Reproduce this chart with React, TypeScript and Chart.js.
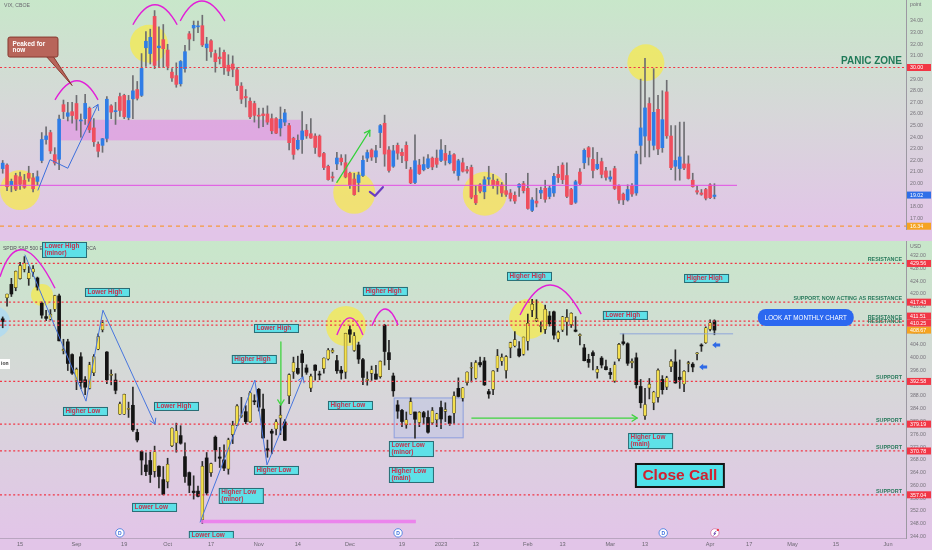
import { useEffect, useRef } from 'react';
import { Chart, registerables } from 'chart.js';

Chart.register(...registerables);

type Ohlc = [number, number, number, number]; // open, high, low, close

// one row per trading day: index 0 = 9 Aug 2022 ... index 164 = 4 Apr 2023
const spyCandles: Ohlc[] = [
  [412.2, 412.8, 409.4, 411.35], [418.8, 420.0, 416.2, 419.99], [423.0, 424.9, 419.2, 419.99], [422.0, 427.2, 421.0, 427.1],
  [424.8, 429.9, 424.6, 428.86], [427.7, 431.7, 426.9, 429.7], [424.8, 428.6, 422.7, 426.65], [426.9, 428.9, 425.5, 427.89],
  [425.0, 425.3, 421.2, 422.14], [417.1, 417.5, 412.4, 413.35], [412.9, 414.9, 411.6, 412.35], [412.1, 415.1, 411.8, 413.67],
  [415.2, 419.6, 414.5, 419.51], [419.4, 420.0, 405.3, 405.31], [402.2, 405.8, 401.2, 402.63], [405.0, 405.8, 396.0, 398.21],
  [401.0, 401.2, 394.8, 395.18], [392.9, 396.8, 390.0, 396.42], [400.3, 401.6, 390.3, 392.24], [393.1, 394.1, 388.4, 390.76],
  [390.4, 398.6, 390.2, 397.78], [395.3, 401.0, 394.4, 400.38], [402.7, 407.5, 402.5, 406.6], [408.8, 411.7, 408.1, 410.97],
  [401.8, 401.9, 391.9, 393.1], [394.5, 396.2, 391.5, 394.69], [393.0, 395.0, 388.7, 389.79], [382.3, 386.1, 382.2, 385.56],
  [382.3, 388.6, 382.2, 388.55], [383.8, 386.1, 381.3, 384.09], [385.1, 390.8, 376.9, 377.39], [376.6, 377.6, 373.6, 374.22],
  [370.6, 370.8, 363.3, 367.95], [366.4, 370.2, 363.0, 364.31], [367.8, 370.4, 360.9, 363.38], [364.4, 372.3, 362.6, 370.53],
  [366.0, 366.1, 359.2, 362.79], [361.8, 365.9, 357.0, 357.18], [361.1, 368.5, 359.2, 366.61], [372.4, 378.0, 372.1, 377.97],
  [373.3, 379.5, 370.4, 377.09], [375.6, 378.7, 372.9, 373.2], [369.0, 373.3, 360.9, 362.79], [364.0, 364.2, 357.7, 360.02],
  [358.2, 363.0, 355.7, 357.74], [358.2, 359.8, 356.4, 356.56], [349.2, 367.5, 348.1, 365.97], [368.6, 370.3, 357.0, 357.63],
  [364.0, 367.0, 362.8, 366.82], [375.1, 375.5, 367.5, 371.13], [368.9, 371.9, 365.6, 368.5], [368.0, 372.7, 364.6, 365.41],
  [365.1, 374.8, 363.5, 374.29], [375.9, 380.1, 373.1, 378.87], [378.8, 385.3, 378.7, 384.92], [381.6, 387.6, 381.3, 382.02],
  [383.1, 385.0, 379.3, 379.98], [379.9, 389.5, 379.7, 389.02], [386.4, 388.4, 385.3, 386.21], [390.1, 390.4, 383.3, 384.52],
  [383.9, 388.6, 374.8, 374.87], [371.5, 374.2, 368.8, 371.01], [377.0, 377.6, 369.9, 376.35], [377.7, 380.6, 375.8, 379.95],
  [381.1, 385.1, 375.9, 382.0], [379.9, 380.6, 374.0, 374.13], [388.1, 395.0, 385.6, 394.69], [395.6, 400.2, 393.5, 398.51],
  [396.7, 400.5, 394.8, 395.12], [401.2, 402.3, 394.0, 398.49], [396.8, 397.8, 394.8, 395.45], [390.5, 394.9, 389.4, 394.24],
  [397.7, 397.8, 393.0, 396.03], [394.6, 395.8, 393.1, 394.59], [396.6, 400.0, 395.2, 399.9], [399.6, 402.9, 399.3, 402.42],
  [401.8, 402.9, 401.5, 402.33], [399.1, 400.8, 395.1, 395.91], [396.1, 397.3, 393.3, 395.23], [395.5, 407.7, 393.5, 407.68],
  [408.8, 410.0, 404.8, 407.38], [402.3, 407.9, 402.0, 406.91], [404.0, 404.9, 398.2, 399.59], [399.4, 399.8, 391.6, 393.83],
  [392.9, 395.6, 391.4, 393.16], [395.1, 397.4, 392.9, 396.24], [394.9, 397.6, 393.3, 393.28], [394.1, 399.0, 393.6, 398.95],
  [410.2, 410.5, 397.7, 401.97], [401.6, 405.5, 396.3, 399.4], [394.3, 395.2, 387.9, 389.63], [385.2, 386.6, 381.0, 383.27],
  [383.5, 383.8, 378.4, 380.02], [379.0, 383.0, 377.9, 380.54], [382.3, 387.4, 382.3, 386.23], [383.0, 383.0, 374.8, 380.72],
  [379.7, 383.1, 378.4, 382.91], [382.8, 383.2, 379.3, 381.4], [381.3, 383.4, 376.4, 376.66], [379.6, 384.4, 379.1, 383.44],
  [380.6, 382.6, 378.4, 382.43], [384.4, 386.4, 377.8, 380.82], [383.2, 385.9, 380.0, 383.76], [381.7, 381.8, 378.8, 379.38],
  [382.6, 389.3, 379.4, 388.08], [390.4, 393.7, 387.7, 387.86], [387.3, 390.7, 386.4, 390.58], [392.2, 395.6, 391.4, 395.52],
  [396.7, 398.5, 392.4, 396.96], [393.6, 399.1, 393.3, 398.5], [398.5, 400.2, 397.1, 397.77], [399.0, 400.1, 391.3, 391.49],
  [389.4, 390.1, 387.3, 388.64], [390.1, 396.0, 388.4, 395.88], [396.7, 402.6, 395.7, 400.63], [398.9, 401.2, 397.6, 400.2],
  [396.0, 400.7, 393.6, 400.35], [403.1, 404.9, 400.0, 404.75], [403.7, 408.2, 403.4, 405.68], [402.8, 405.1, 400.3, 400.59],
  [401.1, 406.5, 400.8, 406.48], [405.2, 413.7, 402.4, 410.8], [414.9, 418.3, 412.9, 416.78], [411.6, 418.2, 411.3, 412.35],
  [409.8, 411.3, 408.1, 409.83], [408.9, 416.5, 407.6, 415.19], [413.1, 414.5, 409.9, 410.65], [414.4, 414.6, 405.8, 407.09],
  [405.9, 408.4, 405.0, 408.04], [408.7, 413.0, 408.2, 412.83], [411.2, 415.1, 407.1, 412.64], [410.4, 414.1, 409.5, 413.98],
  [408.7, 412.9, 408.1, 408.28], [406.9, 407.5, 404.0, 407.26], [403.1, 404.2, 399.0, 399.09], [399.5, 401.1, 397.0, 398.54],
  [401.6, 402.2, 396.2, 400.66], [395.4, 397.3, 393.6, 396.38], [399.9, 400.4, 396.8, 397.73], [397.2, 399.3, 396.2, 396.26],
  [395.4, 396.7, 393.4, 394.74], [392.7, 398.7, 392.3, 397.81], [399.7, 404.5, 399.0, 404.19], [405.0, 407.5, 404.0, 404.47],
  [404.4, 404.7, 397.6, 398.27], [398.4, 399.7, 396.8, 398.92], [400.0, 401.5, 390.5, 391.56], [391.0, 393.2, 384.3, 385.91],
  [381.8, 390.4, 380.7, 385.36], [390.5, 393.5, 387.1, 391.73], [385.9, 389.5, 383.7, 389.28], [387.6, 396.5, 386.1, 396.11],
  [393.2, 394.4, 388.6, 389.99], [390.8, 394.2, 390.0, 393.74], [397.2, 399.4, 395.6, 398.91], [398.7, 402.5, 392.0, 392.11],
  [393.9, 399.3, 390.4, 393.17], [391.8, 396.0, 389.4, 395.75], [398.1, 398.9, 395.6, 398.48], [398.0, 398.5, 395.6, 397.11],
  [401.2, 401.6, 399.3, 401.35], [404.0, 404.4, 402.0, 403.7], [404.7, 409.7, 404.5, 409.39], [408.9, 411.9, 408.4, 410.95],
  [411.6, 411.9, 407.2, 408.67],
];

const vixCandles: Ohlc[] = [
  [21.3, 22.0, 20.9, 21.77], [21.6, 21.7, 19.4, 19.74], [19.9, 20.4, 19.3, 20.2], [20.7, 20.9, 19.4, 19.53],
  [20.6, 21.0, 19.5, 19.95], [20.3, 20.8, 19.6, 19.69], [20.9, 21.5, 20.2, 20.47], [20.5, 20.9, 19.3, 19.56],
  [20.2, 21.1, 19.9, 20.6], [22.0, 24.4, 21.8, 23.8], [23.8, 24.9, 23.4, 24.11], [24.4, 24.6, 22.6, 22.82],
  [22.5, 23.1, 21.6, 21.78], [22.1, 25.9, 21.2, 25.56], [26.8, 27.2, 25.6, 26.21], [25.8, 27.0, 25.4, 26.1],
  [26.2, 27.0, 25.2, 25.87], [26.9, 27.6, 24.6, 25.56], [25.4, 26.0, 24.0, 25.47], [25.6, 27.7, 25.1, 26.91],
  [26.5, 26.6, 24.4, 24.64], [24.8, 25.6, 23.2, 23.61], [23.4, 23.6, 22.3, 22.79], [23.3, 23.9, 22.7, 23.87],
  [23.9, 27.5, 23.6, 27.27], [26.7, 26.8, 25.6, 26.16], [26.2, 27.0, 25.1, 26.27], [27.5, 27.8, 25.8, 26.3],
  [27.6, 27.7, 25.6, 25.76], [25.7, 27.6, 25.5, 27.16], [27.3, 29.3, 25.6, 27.99], [28.1, 28.8, 27.2, 27.35],
  [27.6, 31.2, 27.5, 29.92], [31.7, 33.1, 30.1, 32.26], [31.2, 33.3, 30.3, 32.6], [34.4, 34.9, 29.9, 30.18],
  [31.7, 33.5, 30.0, 31.84], [32.4, 33.7, 30.0, 31.62], [31.5, 32.0, 29.8, 30.1], [29.6, 29.9, 28.8, 29.1],
  [29.3, 30.4, 28.3, 28.55], [28.6, 30.6, 28.4, 30.52], [29.9, 31.9, 29.6, 31.36], [32.9, 33.1, 31.5, 32.45],
  [33.4, 34.0, 32.3, 33.63], [33.5, 34.0, 33.0, 33.57], [33.6, 34.5, 31.8, 31.94], [31.7, 32.6, 30.6, 32.02],
  [32.3, 32.4, 30.9, 31.37], [31.2, 31.5, 29.6, 30.5], [30.9, 31.7, 30.3, 30.76], [31.3, 31.5, 29.4, 29.98],
  [30.2, 31.1, 29.3, 29.69], [30.3, 31.0, 29.2, 29.85], [29.8, 30.0, 28.0, 28.46], [28.4, 28.7, 26.9, 27.28],
  [27.5, 28.1, 26.6, 27.39], [27.1, 27.4, 25.6, 25.75], [26.9, 27.1, 25.3, 25.88], [25.9, 26.5, 24.8, 25.81],
  [26.0, 26.5, 24.9, 25.86], [26.0, 26.7, 25.1, 25.3], [25.6, 26.0, 24.3, 24.55], [25.6, 25.7, 24.3, 24.35],
  [24.8, 26.6, 24.1, 25.54], [25.3, 26.4, 25.0, 26.09], [25.0, 25.2, 22.9, 23.53], [23.9, 24.0, 22.1, 22.52],
  [23.0, 24.2, 22.9, 23.73], [23.8, 26.2, 22.6, 24.54], [24.6, 25.1, 23.9, 24.11], [24.3, 25.6, 23.9, 23.93],
  [24.1, 24.3, 22.6, 23.12], [24.1, 24.2, 22.3, 22.36], [22.6, 22.7, 21.2, 21.39], [21.5, 21.6, 20.3, 20.35],
  [20.6, 21.0, 20.2, 20.5], [21.7, 22.7, 21.2, 22.21], [22.2, 22.5, 21.6, 21.89], [21.8, 22.5, 20.5, 20.58],
  [20.9, 21.0, 19.6, 19.84], [20.4, 20.9, 19.0, 19.06], [20.1, 21.0, 19.3, 20.75], [20.7, 22.4, 20.6, 22.01],
  [22.2, 22.9, 21.9, 22.68], [22.9, 23.0, 22.0, 22.29], [22.3, 23.3, 21.8, 22.83], [24.4, 25.1, 23.1, 25.0],
  [25.2, 25.9, 21.5, 22.55], [22.9, 23.2, 21.0, 21.14], [21.5, 23.3, 21.4, 22.83], [23.3, 23.5, 22.1, 22.62],
  [22.7, 23.0, 21.8, 22.42], [23.3, 23.6, 21.3, 21.97], [21.2, 21.4, 20.0, 20.07], [20.1, 24.2, 20.0, 21.97],
  [21.6, 22.1, 20.8, 20.87], [21.2, 22.3, 21.1, 21.65], [21.4, 22.5, 21.3, 22.14], [22.2, 22.3, 21.2, 21.44],
  [22.2, 22.9, 21.4, 21.67], [22.0, 23.8, 21.9, 22.9], [22.6, 23.3, 21.6, 22.01], [21.8, 22.8, 21.7, 22.46],
  [22.5, 22.6, 20.9, 21.13], [20.7, 22.1, 20.3, 21.97], [21.8, 22.2, 21.0, 21.07], [21.2, 21.5, 20.9, 21.09],
  [21.4, 21.6, 18.7, 18.83], [19.0, 19.8, 18.2, 18.35], [19.9, 20.0, 19.2, 19.36], [19.3, 20.6, 18.7, 20.34],
  [20.4, 21.5, 19.9, 20.52], [20.3, 20.8, 19.6, 19.85], [20.2, 20.4, 19.1, 19.81], [19.9, 20.1, 18.9, 19.2],
  [19.4, 20.9, 18.9, 19.08], [19.2, 19.5, 18.5, 18.73], [19.0, 19.3, 18.3, 18.51], [19.7, 20.0, 18.9, 19.94],
  [20.0, 20.2, 19.2, 19.4], [19.6, 20.9, 17.8, 17.87], [17.7, 18.8, 17.6, 18.6], [18.5, 19.6, 18.0, 18.33],
  [19.2, 19.7, 18.7, 19.43], [19.6, 20.3, 18.4, 18.66], [18.9, 19.8, 18.7, 19.63], [19.2, 20.9, 18.9, 20.63],
  [20.8, 21.5, 20.1, 20.53], [21.6, 21.8, 20.0, 20.34], [20.7, 21.8, 18.8, 18.91], [19.5, 19.6, 18.2, 18.23],
  [18.4, 20.3, 18.3, 20.17], [21.0, 21.3, 19.9, 20.02], [21.8, 23.0, 21.3, 22.87], [23.1, 23.2, 21.6, 22.29],
  [22.1, 23.1, 20.5, 21.14], [21.3, 22.7, 21.2, 21.67], [21.9, 22.2, 20.5, 20.8], [21.1, 21.4, 20.3, 20.55],
  [20.4, 21.1, 20.2, 20.58], [21.3, 21.5, 19.5, 19.59], [19.8, 19.9, 18.3, 18.6], [19.1, 19.2, 18.2, 18.61],
  [18.6, 19.9, 18.5, 19.5], [19.8, 20.0, 18.9, 19.11], [19.2, 22.8, 19.0, 22.55], [23.3, 29.0, 21.7, 24.8],
  [24.1, 30.8, 22.3, 26.52], [26.9, 27.4, 22.3, 23.73], [23.3, 29.9, 22.9, 26.14], [26.4, 27.6, 22.5, 22.99],
  [23.1, 28.0, 22.7, 25.51], [27.9, 28.9, 23.9, 24.12], [24.1, 25.0, 21.2, 21.38], [21.5, 25.0, 20.3, 22.0],
  [21.3, 25.3, 20.3, 22.3], [21.7, 25.3, 21.2, 21.35], [21.7, 22.4, 20.4, 20.45], [20.3, 20.9, 19.7, 19.75],
  [19.4, 19.8, 19.1, 19.28], [19.2, 19.5, 19.0, 19.08], [19.5, 19.6, 18.6, 18.75], [19.9, 20.0, 18.7, 18.8],
  [18.9, 20.0, 18.7, 19.02],
];

const xTickDays = [4, 17, 28, 38, 48, 59, 68, 80, 92, 101, 109, 121, 129, 140, 148, 163, 172, 182, 192, 204];
const xTickLabels = ['15', 'Sep', '19', 'Oct', '17', 'Nov', '14', 'Dec', '19', '2023', '13', 'Feb', '13', 'Mar', '13', 'Apr', '17', 'May', '15', 'Jun'];

const vixTicks = [17, 18, 19, 20, 21, 22, 23, 24, 25, 26, 27, 28, 29, 30, 31, 32, 33, 34];
const spyTicks = [344, 348, 352, 356, 360, 364, 368, 372, 376, 380, 384, 388, 392, 396, 400, 404, 408, 412, 416, 420, 424, 428, 432];

const vixPanic = 30.0;
const vixLow = 16.34;
const vixLast = 19.02;
const spyLevels = [429.56, 417.43, 411.51, 410.25, 392.58, 379.19, 370.78, 357.04];
const spyLevelNotes = ['RESISTANCE', 'SUPPORT, NOW ACTING AS RESISTANCE', 'RESISTANCE', 'RESISTANCE', 'SUPPORT', 'SUPPORT', 'SUPPORT', 'SUPPORT'];
const spyLast = 408.67;

// drawings, in (day index, price) space
const vixZone = [13.2, 68.7, 25.5, 23.73];
const vixSupport = [-1, 169.2, 19.86];
const vixCircles = [[4.0, 19.45, 20], [33.7, 32.04, 19], [81.0, 19.21, 21], [111.1, 19.13, 22], [148.2, 30.41, 18.5]];
const vixArcs = [
  [[12.05, 27.22], [17.1, 28.86], [21.96, 27.22]],
  [[30.0, 33.68], [35.1, 35.4], [40.2, 33.68]],
  [[40.9, 34.0], [45.9, 35.72], [51.2, 34.0]],
];
const vixZigzag = [[8.13, 19.45], [10.9, 22.07], [15.0, 21.33], [21.96, 26.81]];
const vixGreenArrow = [[77.0, 20.11], [84.6, 24.6]];
const vixCheck = [[84.6, 19.29], [85.8, 18.96], [87.6, 19.7]];
const vixCallout = { x0: 1.22, x1: 12.74, y0: 32.62, y1: 30.9, tip: [16.0, 28.45], lines: ['Peaked for', 'now'] };

const spyNotes: [number, number, string[]][] = [
  [9.06, 436.29, ['Lower High', '(minor)']], [18.96, 421.87, ['Lower High']], [13.89, 384.57, ['Higher Low']],
  [34.86, 386.14, ['Lower High']], [29.8, 354.48, ['Lower Low']], [42.9, 345.7, ['Lower Low']],
  [49.8, 359.18, ['Higher Low', '(minor)']], [52.8, 400.87, ['Higher High']], [57.9, 410.59, ['Lower High']],
  [57.9, 366.08, ['Higher Low']], [83.0, 422.19, ['Higher High']], [74.95, 386.45, ['Higher Low']],
  [89.0, 373.9, ['Lower Low', '(minor)']], [89.0, 365.76, ['Higher Low', '(main)']], [116.2, 426.9, ['Higher High']],
  [138.3, 414.67, ['Lower High']], [157.0, 426.26, ['Higher High']], [144.1, 376.4, ['Higher Low', '(main)']],
];
const spyCircles = [[9.06, 419.7, 11], [79.1, 409.96, 20], [121.3, 412.2, 20]];
const spyArcs = [
  [[-0.62, 425.4], [4.75, 433.8], [12.05, 421.8]],
  [[77.0, 407.1], [80.0, 412.5], [83.0, 407.1]],
  [[85.1, 410.0], [88.1, 415.3], [91.1, 410.3]],
  [[119.2, 413.4], [126.1, 422.8], [133.3, 413.7]],
];
const spyZigzags = [
  [[5.14, 432.2], [19.2, 386.4], [23.1, 414.9], [35.1, 379.2]],
  [[45.5, 348.5], [58.1, 393.0], [60.9, 366.4], [69.2, 394.0]],
];
const spyGreenArrows = [[[64.1, 404.95], [64.1, 385.2]], [[108.1, 381.1], [146.2, 381.1]]];
const spyBoxRange = [90.2, 106.1, 387.4, 374.9];
const spyPinkBar = [45.7, 95.2, 348.7];
const spyNeckline = [142.2, 168.3, 407.5];
const spyBlueArrows = [[164.4, 404.0], [161.4, 397.1]];
const spyIcons = [[27.0, 345.1], [91.1, 345.1], [152.2, 345.1]];
const spyCloseCall = [145.9, 366.7];
const spyPill = [174.0, 196.1, 415.3, 409.96];

const FONT = '"Liberation Sans", Arial, sans-serif';
const X_MIN = -0.622;
const X_MAX = 208.14;

const X = (c: any, v: number) => c.scales.x.getPixelForValue(v);
const Y = (c: any, v: number) => c.scales.y.getPixelForValue(v);

function paneBackground(c: any) {
  const { ctx, width, height, chartArea } = c;
  const g = ctx.createLinearGradient(0, chartArea.top, 0, chartArea.bottom);
  g.addColorStop(0, '#c8e7ca');
  g.addColorStop(0.5, '#d7d7d9');
  g.addColorStop(1, '#e2c5e8');
  ctx.save();
  ctx.fillStyle = g;
  ctx.fillRect(0, 0, width, height);
  ctx.restore();
}

function clipArea(c: any) {
  const a = c.chartArea;
  c.ctx.beginPath();
  c.ctx.rect(a.left, a.top, a.right - a.left, a.bottom - a.top);
  c.ctx.clip();
}

function hline(c: any, v: number, color: string, dash: number[], x0?: number, x1?: number, w = 1.2) {
  const ctx = c.ctx;
  const y = Y(c, v);
  ctx.save();
  ctx.strokeStyle = color;
  ctx.lineWidth = w;
  ctx.setLineDash(dash);
  ctx.beginPath();
  ctx.moveTo(x0 === undefined ? c.chartArea.left : X(c, x0), y);
  ctx.lineTo(x1 === undefined ? c.chartArea.right : X(c, x1), y);
  ctx.stroke();
  ctx.restore();
}

function circles(c: any, list: number[][], fill: string) {
  const ctx = c.ctx;
  ctx.save();
  ctx.fillStyle = fill;
  list.forEach(([x, y, r]) => {
    ctx.beginPath();
    ctx.arc(X(c, x), Y(c, y), r, 0, Math.PI * 2);
    ctx.fill();
  });
  ctx.restore();
}

function arcs(c: any, list: number[][][], color: string) {
  const ctx = c.ctx;
  ctx.save();
  ctx.strokeStyle = color;
  ctx.lineWidth = 1.4;
  list.forEach(([a, m, b]) => {
    const ax = X(c, a[0]), ay = Y(c, a[1]);
    const mx = X(c, m[0]), my = Y(c, m[1]);
    const bx = X(c, b[0]), by = Y(c, b[1]);
    ctx.beginPath();
    ctx.moveTo(ax, ay);
    ctx.quadraticCurveTo(2 * mx - (ax + bx) / 2, 2 * my - (ay + by) / 2, bx, by);
    ctx.stroke();
  });
  ctx.restore();
}

function polyline(c: any, pts: number[][], color: string, w: number, arrow: boolean) {
  const ctx = c.ctx;
  const p = pts.map(([x, y]) => [X(c, x), Y(c, y)]);
  ctx.save();
  ctx.strokeStyle = color;
  ctx.lineWidth = w;
  ctx.lineJoin = 'round';
  ctx.lineCap = 'round';
  ctx.beginPath();
  p.forEach(([x, y], i) => (i ? ctx.lineTo(x, y) : ctx.moveTo(x, y)));
  ctx.stroke();
  if (arrow) {
    const [x0, y0] = p[p.length - 2];
    const [x1, y1] = p[p.length - 1];
    const a = Math.atan2(y1 - y0, x1 - x0);
    const s = 6;
    ctx.beginPath();
    ctx.moveTo(x1 - s * Math.cos(a - 0.55), y1 - s * Math.sin(a - 0.55));
    ctx.lineTo(x1, y1);
    ctx.lineTo(x1 - s * Math.cos(a + 0.55), y1 - s * Math.sin(a + 0.55));
    ctx.stroke();
  }
  ctx.restore();
}

function noteBox(c: any, x: number, y: number, lines: string[]) {
  const ctx = c.ctx;
  const left = X(c, x);
  const top = Y(c, y);
  const h = lines.length * 7 + 2;
  ctx.save();
  ctx.fillStyle = '#5ee1e8';
  ctx.strokeStyle = '#2a6c74';
  ctx.lineWidth = 1;
  ctx.fillRect(left, top, 45, h);
  ctx.strokeRect(left + 0.5, top + 0.5, 44, h - 1);
  ctx.fillStyle = '#c8304c';
  ctx.font = `bold 6.4px ${FONT}`;
  ctx.textBaseline = 'middle';
  ctx.textAlign = 'left';
  lines.forEach((t, i) => ctx.fillText(t, left + 2.5, top + 4.6 + i * 7));
  ctx.restore();
}

function tags(c: any, list: { v: number; text: string; bg: string }[]) {
  const ctx = c.ctx;
  const items = list.map((t) => ({ ...t, y: Y(c, t.v) })).sort((a, b) => b.y - a.y);
  let prev = Infinity;
  ctx.save();
  ctx.font = `5.3px ${FONT}`;
  ctx.textBaseline = 'middle';
  ctx.textAlign = 'left';
  items.forEach((it) => {
    const y = Math.min(it.y, prev - 7);
    prev = y;
    const x = c.chartArea.right + 1;
    ctx.fillStyle = it.bg;
    ctx.fillRect(x, y - 3.5, 24, 7);
    ctx.fillStyle = '#ffffff';
    ctx.fillText(it.text, x + 3, y + 0.3);
  });
  ctx.restore();
}

function axisTitle(c: any, text: string, y: number) {
  const ctx = c.ctx;
  ctx.save();
  ctx.fillStyle = '#6f6b74';
  ctx.font = `5.2px ${FONT}`;
  ctx.textBaseline = 'middle';
  ctx.fillText(text, c.chartArea.right + 4, y);
  ctx.restore();
}

const vixPanePlugin = {
  id: 'vixPane',
  beforeDraw(c: any) {
    paneBackground(c);
  },
  beforeDatasetsDraw(c: any) {
    const ctx = c.ctx;
    ctx.save();
    clipArea(c);
    const [zx0, zx1, zy0, zy1] = vixZone;
    ctx.fillStyle = 'rgba(226, 140, 228, 0.6)';
    ctx.fillRect(X(c, zx0), Y(c, zy0), X(c, zx1) - X(c, zx0), Y(c, zy1) - Y(c, zy0));
    circles(c, vixCircles, 'rgba(247, 234, 72, 0.72)');
    ctx.restore();
  },
  afterDatasetsDraw(c: any) {
    const ctx = c.ctx;
    ctx.save();
    clipArea(c);
    hline(c, vixSupport[2], '#e24ee4', [], vixSupport[0], vixSupport[1], 1);
    hline(c, vixPanic, '#f23645', [2, 2.4]);
    hline(c, vixLow, '#f59a3c', [4, 4]);
    arcs(c, vixArcs, '#e21fd8');
    polyline(c, vixZigzag, '#3c6fdc', 1, true);
    polyline(c, vixGreenArrow, '#34d13a', 1.3, true);
    polyline(c, vixCheck, '#6a3cc2', 2.2, false);

    // callout
    const { x0, x1, y0, y1, tip, lines } = vixCallout;
    const l = X(c, x0), r = X(c, x1), t = Y(c, y0), b = Y(c, y1);
    ctx.fillStyle = '#b8655a';
    ctx.strokeStyle = '#87392f';
    ctx.lineWidth = 1;
    ctx.beginPath();
    ctx.moveTo(r - 12, b - 1);
    ctx.lineTo(X(c, tip[0]), Y(c, tip[1]));
    ctx.lineTo(r - 5, b - 1);
    ctx.closePath();
    ctx.fill();
    ctx.stroke();
    ctx.beginPath();
    ctx.roundRect(l, t, r - l, b - t, 2);
    ctx.fill();
    ctx.stroke();
    ctx.fillStyle = '#ffffff';
    ctx.font = `bold 6.4px ${FONT}`;
    ctx.textBaseline = 'middle';
    lines.forEach((s, i) => ctx.fillText(s, l + 4.5, t + 7 + i * 6.5));

    ctx.fillStyle = '#1f7a58';
    ctx.font = `bold 10px ${FONT}`;
    ctx.textAlign = 'right';
    ctx.textBaseline = 'alphabetic';
    ctx.fillText('PANIC ZONE', c.chartArea.right - 4, Y(c, 30.3));

    ctx.fillStyle = '#6a6870';
    ctx.font = `5.2px ${FONT}`;
    ctx.textAlign = 'left';
    ctx.textBaseline = 'middle';
    ctx.fillText('VIX, CBOE', 4, 6);
    ctx.restore();
  },
  afterDraw(c: any) {
    axisTitle(c, 'point', 5);
    tags(c, [
      { v: vixPanic, text: vixPanic.toFixed(2), bg: '#f23645' },
      { v: vixLast, text: vixLast.toFixed(2), bg: '#2f6ee8' },
      { v: vixLow, text: vixLow.toFixed(2), bg: '#f5a320' },
    ]);
  },
};

const spyPanePlugin = {
  id: 'spyPane',
  beforeDraw(c: any) {
    paneBackground(c);
  },
  beforeDatasetsDraw(c: any) {
    const ctx = c.ctx;
    ctx.save();
    clipArea(c);
    circles(c, spyCircles, 'rgba(247, 234, 72, 0.72)');
    circles(c, [[-2.0, 411.2, 16]], 'rgba(170, 218, 245, 0.75)');
    const [bx0, bx1, by0, by1] = spyBoxRange;
    ctx.fillStyle = 'rgba(168, 186, 236, 0.3)';
    ctx.strokeStyle = 'rgba(112, 140, 222, 0.7)';
    ctx.lineWidth = 1;
    ctx.fillRect(X(c, bx0), Y(c, by0), X(c, bx1) - X(c, bx0), Y(c, by1) - Y(c, by0));
    ctx.strokeRect(X(c, bx0), Y(c, by0), X(c, bx1) - X(c, bx0), Y(c, by1) - Y(c, by0));
    ctx.fillStyle = '#55525a';
    ctx.font = `5px ${FONT}`;
    ctx.textBaseline = 'middle';
    ctx.fillText('SPDR S&P 500 ETF TRUST · 1D · ARCA', 3, 8);
    ctx.restore();
  },
  afterDatasetsDraw(c: any) {
    const ctx = c.ctx;
    ctx.save();
    clipArea(c);
    spyLevels.forEach((v) => hline(c, v, '#f23645', [2, 2.4]));
    hline(c, spyPinkBar[2], 'rgba(236, 120, 236, 0.85)', [], spyPinkBar[0], spyPinkBar[1], 3.5);
    hline(c, spyNeckline[2], '#8ea6da', [], spyNeckline[0], spyNeckline[1], 1);

    ctx.fillStyle = '#2a7a5c';
    ctx.font = `bold 5.4px ${FONT}`;
    ctx.textAlign = 'right';
    ctx.textBaseline = 'alphabetic';
    spyLevels.forEach((v, i) => ctx.fillText(spyLevelNotes[i], c.chartArea.right - 4, Y(c, v) - 2));
    ctx.textAlign = 'left';

    arcs(c, spyArcs, '#e21fd8');
    spyZigzags.forEach((z) => polyline(c, z, '#4876de', 1, true));
    spyGreenArrows.forEach((a) => polyline(c, a, '#3fd43f', 1.3, true));

    ctx.fillStyle = '#2f6ae6';
    spyBlueArrows.forEach(([x, y]) => {
      const ax = X(c, x), ay = Y(c, y);
      ctx.beginPath();
      ctx.moveTo(ax - 4, ay);
      ctx.lineTo(ax, ay - 3.2);
      ctx.lineTo(ax, ay - 1.4);
      ctx.lineTo(ax + 4, ay - 1.4);
      ctx.lineTo(ax + 4, ay + 1.4);
      ctx.lineTo(ax, ay + 1.4);
      ctx.lineTo(ax, ay + 3.2);
      ctx.closePath();
      ctx.fill();
    });

    spyNotes.forEach(([x, y, lines]) => noteBox(c, x, y, lines));

    // Close Call
    const cl = X(c, spyCloseCall[0]);
    const ct = Y(c, spyCloseCall[1]);
    ctx.fillStyle = '#4fe2ea';
    ctx.fillRect(cl, ct, 88, 23);
    ctx.strokeStyle = '#151515';
    ctx.lineWidth = 2;
    ctx.strokeRect(cl, ct, 88, 23);
    ctx.fillStyle = '#d1212f';
    ctx.font = `bold 15.5px ${FONT}`;
    ctx.textAlign = 'center';
    ctx.textBaseline = 'middle';
    ctx.fillText('Close Call', cl + 44, ct + 12);

    // pill
    const [px0, px1, py0, py1] = spyPill;
    const pl = X(c, px0), pr = X(c, px1), pt = Y(c, py0), pb = Y(c, py1);
    ctx.fillStyle = '#2b68f0';
    ctx.beginPath();
    ctx.roundRect(pl, pt, pr - pl, pb - pt, 8);
    ctx.fill();
    ctx.fillStyle = '#ffffff';
    ctx.font = `6.3px ${FONT}`;
    ctx.fillText('LOOK AT MONTHLY CHART', (pl + pr) / 2, (pt + pb) / 2 + 0.5);

    // event icons
    spyIcons.forEach(([x, y]) => {
      const ix = X(c, x), iy = Y(c, y);
      ctx.fillStyle = '#ffffff';
      ctx.strokeStyle = '#4a7de0';
      ctx.lineWidth = 0.9;
      ctx.beginPath();
      ctx.arc(ix, iy, 4.2, 0, Math.PI * 2);
      ctx.fill();
      ctx.stroke();
      ctx.fillStyle = '#3a6fde';
      ctx.font = `bold 5px ${FONT}`;
      ctx.fillText('D', ix, iy + 0.3);
    });
    const fx = X(c, 164.1), fy = Y(c, 345.1);
    ctx.fillStyle = '#ffffff';
    ctx.strokeStyle = '#d77fb0';
    ctx.beginPath();
    ctx.arc(fx, fy, 4.2, 0, Math.PI * 2);
    ctx.fill();
    ctx.stroke();
    ctx.strokeStyle = '#7b5ab8';
    ctx.lineWidth = 1;
    ctx.beginPath();
    ctx.moveTo(fx + 1.5, fy - 2);
    ctx.lineTo(fx - 1, fy + 0.5);
    ctx.lineTo(fx + 1, fy + 0.5);
    ctx.lineTo(fx - 1.5, fy + 2.5);
    ctx.stroke();
    ctx.fillStyle = '#f23645';
    ctx.beginPath();
    ctx.arc(fx + 3, fy - 3, 1.2, 0, Math.PI * 2);
    ctx.fill();

    // clipped note at the left edge
    ctx.fillStyle = '#ffffff';
    ctx.fillRect(c.chartArea.left, Y(c, 399.6), 10, 10);
    ctx.fillStyle = '#333';
    ctx.font = `bold 5px ${FONT}`;
    ctx.textAlign = 'right';
    ctx.fillText('ion', c.chartArea.left + 8.5, Y(c, 399.6) + 5);
    ctx.restore();
  },
  afterDraw(c: any) {
    axisTitle(c, 'USD', 6);
    tags(c, [
      ...spyLevels.map((v) => ({ v, text: v.toFixed(2), bg: '#f23645' })),
      { v: spyLast, text: spyLast.toFixed(2), bg: '#f5a320' },
    ]);
  },
};

function candleDatasets(rows: Ohlc[], up: string, down: string, wick: string, upEdge: number) {
  return [
    {
      type: 'bar' as const,
      data: rows.map((r, i) => ({ x: i, y: [r[2], r[1]] })),
      backgroundColor: wick,
      barThickness: 1,
      grouped: false,
      order: 2,
    },
    {
      type: 'bar' as const,
      data: rows.map((r, i) => ({ x: i, y: [r[0], r[3]] })),
      backgroundColor: rows.map((r) => (r[3] >= r[0] ? up : down)),
      borderColor: '#4a4320',
      borderWidth: rows.map((r) => (r[3] >= r[0] ? upEdge : 0)),
      borderSkipped: false,
      barThickness: 3,
      minBarLength: 1,
      grouped: false,
      order: 1,
    },
  ];
}

function paneOptions(yMin: number, yMax: number, yTicks: number[], showX: boolean): any {
  return {
    animation: false,
    responsive: true,
    maintainAspectRatio: false,
    events: [],
    layout: { padding: 0 },
    plugins: { legend: { display: false }, tooltip: { enabled: false } },
    scales: {
      x: {
        type: 'linear',
        min: X_MIN,
        max: X_MAX,
        offset: false,
        display: showX,
        grid: { display: false, drawTicks: false },
        border: { display: showX, color: '#b9a5c0' },
        afterBuildTicks: (s: any) => {
          s.ticks = xTickDays.map((v) => ({ value: v }));
        },
        afterFit: (s: any) => {
          s.height = 12;
          s.paddingLeft = 0;
          s.paddingRight = 0;
        },
        ticks: {
          autoSkip: false,
          maxRotation: 0,
          padding: 3,
          color: '#6c6872',
          font: { size: 5.6, family: FONT },
          callback: (v: number) => xTickLabels[xTickDays.indexOf(v)] ?? '',
        },
      },
      y: {
        type: 'linear',
        position: 'right',
        min: yMin,
        max: yMax,
        grid: { display: false, drawTicks: false },
        border: { display: true, color: '#9c98a2' },
        afterBuildTicks: (s: any) => {
          s.ticks = yTicks.map((v) => ({ value: v }));
        },
        afterFit: (s: any) => {
          s.width = 26;
          s.paddingTop = 0;
          s.paddingBottom = 0;
        },
        ticks: {
          padding: 4,
          color: '#77737b',
          font: { size: 5.2, family: FONT },
          callback: (v: number) => Number(v).toFixed(2),
        },
      },
    },
  };
}

export default function App() {
  const topRef = useRef<HTMLCanvasElement>(null);
  const botRef = useRef<HTMLCanvasElement>(null);

  useEffect(() => {
    if (!topRef.current || !botRef.current) return;

    const top = new Chart(topRef.current, {
      type: 'bar',
      data: { datasets: candleDatasets(vixCandles, '#2f7de6', '#ef4f5e', '#6e6e72', 0) as any },
      options: paneOptions(16.1, 35.81, vixTicks, false),
      plugins: [vixPanePlugin],
    });

    const bot = new Chart(botRef.current, {
      type: 'bar',
      data: { datasets: candleDatasets(spyCandles, '#f4e04e', '#141414', '#2c2c2c', 0.6) as any },
      options: paneOptions(343.5, 436.6, spyTicks, true),
      plugins: [spyPanePlugin],
    });

    return () => {
      top.destroy();
      bot.destroy();
    };
  }, []);

  return (
    <div style={{ position: 'fixed', left: 0, top: 0, width: 932, height: 550, background: '#ddc6e4' }}>
      <div style={{ position: 'relative', width: 932, height: 241 }}>
        <canvas ref={topRef} />
      </div>
      <div style={{ position: 'relative', width: 932, height: 309 }}>
        <canvas ref={botRef} />
      </div>
    </div>
  );
}
